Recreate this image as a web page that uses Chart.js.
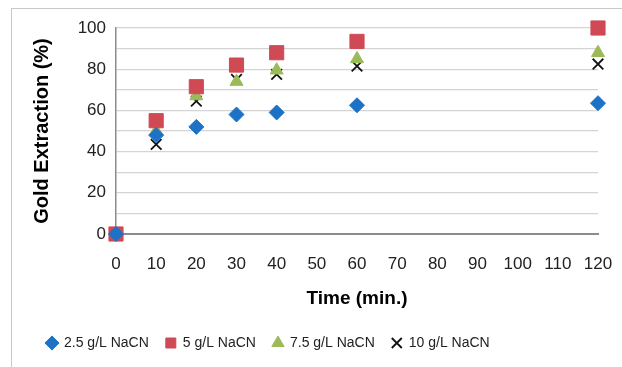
<!DOCTYPE html>
<html>
<head>
<meta charset="utf-8">
<script src="https://cdn.jsdelivr.net/npm/chart.js@4"></script>
<style>
  html, body { margin: 0; padding: 0; background: #ffffff; }
  #wrap { position: relative; width: 622px; height: 367px; overflow: hidden; }
  #frame { position: absolute; left: 11px; top: 8px; width: 640px; height: 400px; border: 1.5px solid #c8c8c8; box-sizing: border-box; }
  #c { position: absolute; left: 0; top: 0; }
</style>
</head>
<body>
<div id="wrap">
  <div id="frame"></div>
  <canvas id="c" width="622" height="367"></canvas>
</div>
<script>
const times = [0, 10, 20, 30, 40, 60, 120];
const seriesNames = ["2.5 g/L NaCN", "5 g/L NaCN", "7.5 g/L NaCN", "10 g/L NaCN"];
const nacn25 = [0, 48, 52, 58, 59, 62.5, 63.5];
const nacn5  = [0, 55, 71.5, 82, 88, 93.5, 100];
const nacn75 = [0, 50, 67, 74, 79.5, 85, 88];
const nacn10 = [0, 43.5, 64.5, 75, 77.5, 81.5, 82.5];
const xTicks = [0, 10, 20, 30, 40, 50, 60, 70, 80, 90, 100, 110, 120];
const yTicks = [0, 20, 40, 60, 80, 100];

function pts(vals) { return times.map((t, i) => ({ x: t, y: vals[i] })); }

const fontFam = "'Liberation Sans', Arial, sans-serif";

new Chart(document.getElementById('c'), {
  type: 'scatter',
  data: {
    datasets: [
      { label: seriesNames[0], data: pts(nacn25), clip: false, pointStyle: 'rectRot', pointRadius: 7.5, backgroundColor: '#1d72c6', borderColor: '#1d72c6', borderWidth: 1 },
      { label: seriesNames[1], data: pts(nacn5), clip: false, pointStyle: 'rect', pointRadius: 10, backgroundColor: '#cf4a55', borderColor: '#cf4a55', borderWidth: 1 },
      { label: seriesNames[2], data: pts(nacn75), clip: false, pointStyle: 'triangle', pointRadius: 7.5, backgroundColor: '#9bbb59', borderColor: '#9bbb59', borderWidth: 1 },
      { label: seriesNames[3], data: pts(nacn10), clip: false, pointStyle: 'crossRot', pointRadius: 7.5, backgroundColor: '#111111', borderColor: '#111111', borderWidth: 1.8 }
    ]
  },
  options: {
    responsive: false,
    animation: false,
    devicePixelRatio: 1,
    layout: { padding: { left: 30, right: 0, top: 28, bottom: 7 } },
    plugins: {
      tooltip: { enabled: false },
      legend: {
        position: 'bottom',
        align: 'start',
        labels: {
          usePointStyle: true,
          boxWidth: 10,
          boxHeight: 10,
          padding: 17,
          color: '#222222',
          font: { family: fontFam, size: 14 }
        }
      }
    },
    scales: {
      x: {
        type: 'linear',
        min: 0, max: 120,
        afterBuildTicks: (s) => { s.ticks = xTicks.map(v => ({ value: v })); },
        afterFit: (s) => { s.height = 85; s.paddingRight = 24; },
        grid: { display: false, drawTicks: false },
        border: { color: '#8c8c8c', width: 2 },
        ticks: { padding: 20, color: '#222222', font: { family: fontFam, size: 17 }, maxRotation: 0, autoSkip: false },
        title: { display: true, text: 'Time (min.)', color: '#000000', font: { family: fontFam, size: 19, weight: 'bold' }, padding: { top: 6, bottom: 9 } }
      },
      y: {
        type: 'linear',
        min: 0, max: 100,
        ticks: {
          stepSize: 10,
          autoSkip: false,
          padding: 10,
          color: '#222222',
          font: { family: fontFam, size: 17 },
          callback: (v) => (yTicks.includes(v) ? String(v) : '')
        },
        afterFit: (s) => { s.width = 86; },
        grid: { color: '#d4d4d4', lineWidth: 1.3, drawTicks: false },
        border: { color: '#8c8c8c', width: 1.5 },
        title: { display: true, text: 'Gold Extraction (%)', color: '#000000', font: { family: fontFam, size: 20, weight: 'bold' }, padding: { top: 0, bottom: 6 } }
      }
    }
  }
});
</script>
</body>
</html>
